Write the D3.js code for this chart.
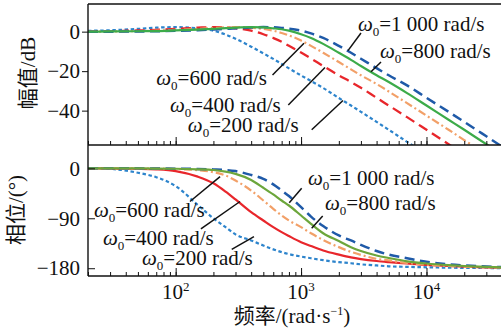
<!DOCTYPE html>
<html>
<head>
<meta charset="utf-8">
<script src="https://cdn.jsdelivr.net/npm/d3@7"></script>
<style>
  body { margin: 0; background: #fff; }
  svg { display: block; }
  text { font-family: "Liberation Serif", "Noto Sans CJK SC", serif; fill: #111; }
</style>
</head>
<body>
<div id="fig"></div>
<script>
// frequency grid in rad/s, shared by every curve
var freq = [20, 30, 50, 70, 100, 150, 200, 250, 300, 400, 500, 600, 700, 800, 1000, 1200, 1500,
            2000, 2500, 3000, 4000, 5000, 7000, 10000, 15000, 20000, 30000, 40000];

// magnitude in dB
var mag200  = [0.4, 0.7, 1.4, 2.0, 2.3, 1.7, 0.5, -1.5, -3.6, -7.6, -11.0, -13.8, -16.3, -18.6, -22.2, -25.0, -28.5,
               -33.6, -37.4, -40.6, -45.7, -49.7, -55.8, -62.1, -69.2, -74.0, -80.5, -85.0];
var mag400  = [0.1, 0.2, 0.6, 0.9, 1.4, 2.0, 2.3, 2.2, 1.7, 0.5, -1.3, -3.2, -5.1, -7.2, -10.6, -13.6, -17.4,
               -22.1, -25.5, -28.4, -33.5, -37.4, -43.3, -49.7, -57.0, -62.1, -69.2, -74.0];
var mag600  = [0.0, 0.1, 0.3, 0.5, 0.9, 1.4, 1.9, 2.2, 2.3, 2.0, 1.4, 0.5, -0.7, -1.9, -4.5, -7.2, -10.7,
               -15.4, -19.1, -22.1, -26.5, -30.3, -36.2, -42.5, -49.7, -54.9, -62.1, -67.0];
var mag800  = [0.0, 0.1, 0.2, 0.3, 0.6, 1.0, 1.4, 1.8, 2.0, 2.3, 2.2, 1.7, 1.2, 0.5, -1.3, -3.2, -6.2,
               -10.7, -14.3, -17.4, -22.1, -25.5, -31.1, -37.4, -44.6, -49.7, -57.0, -62.1];
var mag1000 = [0.0, 0.0, 0.1, 0.2, 0.4, 0.7, 1.1, 1.4, 1.7, 2.1, 2.3, 2.2, 1.9, 1.5, 0.5, -0.9, -3.2,
               -7.2, -10.7, -13.7, -18.5, -22.1, -27.2, -33.5, -40.6, -45.7, -53.0, -58.2];

// phase in degrees
var phase200  = [0, -1, -8, -16, -32, -66, -90, -106, -119, -130, -139, -146, -151, -154.5, -159, -162, -165.5,
                 -169, -171, -173, -175, -176.5, -177.5, -178.3, -179, -179.3, -179.6, -179.8];
var phase400  = [0, -0.3, -0.8, -1.8, -5, -15, -27, -42, -56, -79, -94, -106, -115, -122, -133, -140, -148,
                 -155.5, -160.5, -163.5, -167, -169, -171.5, -174, -176, -177, -178.3, -179];
var phase600  = [0, 0, -0.3, -0.6, -1.2, -3.5, -7, -13, -22, -40, -58, -73, -85, -94, -106, -117, -129,
                 -142, -150.5, -156, -163, -166, -170.5, -173.5, -176, -177, -178.3, -179];
var phase800  = [0, 0, -0.2, -0.4, -0.8, -1.8, -3, -6, -10, -21, -35, -47, -58, -67, -85, -100, -117,
                 -131, -142, -149, -157, -161.5, -167.5, -171.5, -174.5, -176, -177.5, -178.5];
var phase1000 = [0, 0, -0.1, -0.3, -0.6, -1.2, -2, -3, -5, -12, -19, -29, -40, -50, -70, -87, -104,
                 -121, -130, -138, -149, -155.5, -162, -168.5, -173, -175, -177, -178];

var magTicks = [0, -20, -40];
var phaseTicks = [0, -90, -180];
var decades = [100, 1000, 10000];

// annotations, in data units: label start, leader end on the curve, leader end near the label
var magNotes = [
  { w: "1 000", f: 2840, v: 0.3,   f1: 2366, v1: -9.6,  f2: 3004, v2: -0.7 },
  { w: "800",   f: 4260, v: -13.3, f1: 3610, v1: -20.3, f2: 4337, v2: -15.4 },
  { w: "600",   f: 70,   v: -27.0, f1: 592,  v1: -22.0, f2: 1055, v2: -5.9 },
  { w: "400",   f: 90,   v: -40.7, f1: 791,  v1: -37.1, f2: 1551, v2: -18.2 },
  { w: "200",   f: 125,  v: -50.8, f1: 1215, v1: -49.7, f2: 2159, v2: -34.9 }
];
var phaseNotes = [
  { w: "1 000", f: 1135, v: -30.1,  f1: 805,  v1: -62,    f2: 1011, v2: -36 },
  { w: "800",   f: 1551, v: -75.1,  f1: 1215, v1: -108,   f2: 1487, v2: -86 },
  { w: "600",   f: 22.3, v: -87.7,  f1: 130,  v1: -59.8,  f2: 226,  v2: -15.1 },
  { w: "400",   f: 26.3, v: -138.2, f1: 159,  v1: -109.3, f2: 326,  v2: -59.8 },
  { w: "200",   f: 53.9, v: -174.2, f1: 280,  v1: -145.9, f2: 421,  v2: -123.2 }
];

var W = 501, H = 336;
var fs = 21;
var svg = d3.select("#fig").append("svg").attr("width", W).attr("height", H);

var x = d3.scaleLog().domain([20, 40000]).range([88, 502]);
var yMag = d3.scaleLinear().domain([-57.4, 14]).range([145, 4]);
var yPh = d3.scaleLinear().domain([-194, 42]).range([276, 145]);

// clip each panel
var defs = svg.append("defs");
defs.append("clipPath").attr("id", "clipTop").append("rect")
  .attr("x", 88).attr("y", 4).attr("width", 414).attr("height", 141);
defs.append("clipPath").attr("id", "clipBot").append("rect")
  .attr("x", 88).attr("y", 145).attr("width", 414).attr("height", 131);

// line styles, in the order they are drawn
var topStyles = [
  { data: mag200,  color: "#2d84cc", dash: "3.5,2.6", w: 2.2 },
  { data: mag400,  color: "#e8262b", dash: "10,5.5",  w: 2.3 },
  { data: mag600,  color: "#f2a068", dash: "8,3,2,3", w: 2.2 },
  { data: mag1000, color: "#1f5aa8", dash: "10,5.5",  w: 2.5 },
  { data: mag800,  color: "#3cab49", dash: null,      w: 2.2 }
];
var botStyles = [
  { data: phase200,  color: "#2d84cc", dash: "3.5,2.6", w: 2.2 },
  { data: phase400,  color: "#e8262b", dash: null,      w: 2.2 },
  { data: phase600,  color: "#f2a068", dash: "8,3,2,3", w: 2.2 },
  { data: phase1000, color: "#1f5aa8", dash: "10,5.5",  w: 2.5 },
  { data: phase800,  color: "#6ca63b", dash: null,      w: 2.2 }
];

function drawCurves(styles, y, clip) {
  var line = d3.line()
    .x(function(d) { return x(d[0]); })
    .y(function(d) { return y(d[1]); })
    .curve(d3.curveMonotoneX);
  var g = svg.append("g").attr("clip-path", "url(#" + clip + ")");
  styles.forEach(function(s) {
    g.append("path")
      .datum(freq.map(function(f, i) { return [f, s.data[i]]; }))
      .attr("d", line)
      .attr("fill", "none")
      .attr("stroke", s.color)
      .attr("stroke-width", s.w)
      .attr("stroke-dasharray", s.dash);
  });
}
drawCurves(topStyles, yMag, "clipTop");
drawCurves(botStyles, yPh, "clipBot");

// frequency ticks pointing into each panel
function xTicks(yPos) {
  var minor = svg.append("g").attr("transform", "translate(0," + yPos + ")")
    .call(d3.axisBottom(x).tickValues(x.ticks()).tickSize(-4).tickFormat(""));
  minor.select(".domain").remove();
  var major = svg.append("g").attr("transform", "translate(0," + yPos + ")")
    .call(d3.axisBottom(x).tickValues(decades).tickSize(-8).tickFormat(""));
  major.select(".domain").remove();
  svg.selectAll(".tick line").attr("stroke", "#111");
}
xTicks(145);
xTicks(276);

// decade labels 10^n
svg.append("g").selectAll("text")
  .data(decades)
  .enter()
  .append("text")
  .attr("x", function(d) { return x(d); })
  .attr("y", 299)
  .attr("text-anchor", "middle")
  .attr("font-size", fs)
  .each(function(d) {
    var t = d3.select(this);
    t.append("tspan").text("10");
    t.append("tspan").attr("dy", -8).attr("font-size", 13).text(Math.round(Math.log10(d)));
  });

// y axes
var yTop = svg.append("g").attr("transform", "translate(88,0)")
  .call(d3.axisLeft(yMag).tickValues(magTicks).tickSize(6).tickPadding(2));
yTop.select(".domain").remove();
var yBot = svg.append("g").attr("transform", "translate(88,0)")
  .call(d3.axisLeft(yPh).tickValues(phaseTicks).tickSizeInner(-7).tickSizeOuter(0).tickPadding(8));
yBot.select(".domain").remove();
[yTop, yBot].forEach(function(g) {
  g.attr("font-family", null).attr("font-size", null);
  g.selectAll("text").attr("font-size", fs).attr("fill", "#111");
  g.selectAll("line").attr("stroke", "#111");
});

// frame
var frame = svg.append("g").attr("stroke", "#111").attr("stroke-width", 1.4).attr("fill", "none");
frame.append("line").attr("x1", 88).attr("x2", 502).attr("y1", 4).attr("y2", 4);
frame.append("line").attr("x1", 88).attr("x2", 502).attr("y1", 145).attr("y2", 145);
frame.append("line").attr("x1", 88).attr("x2", 502).attr("y1", 276).attr("y2", 276);
frame.append("line").attr("x1", 88).attr("x2", 88).attr("y1", 4).attr("y2", 276);

// curve labels with leader lines
function notes(list, y) {
  var g = svg.append("g");
  list.forEach(function(n) {
    g.append("line")
      .attr("x1", x(n.f1)).attr("y1", y(n.v1))
      .attr("x2", x(n.f2)).attr("y2", y(n.v2))
      .attr("stroke", "#111").attr("stroke-width", 1.5);
    var t = g.append("text").attr("x", x(n.f)).attr("y", y(n.v)).attr("font-size", fs);
    t.append("tspan").attr("font-style", "italic").text("ω");
    t.append("tspan").attr("dy", 5).attr("font-size", 13).text("0");
    t.append("tspan").attr("dy", -5).text("=" + n.w + " rad/s");
  });
}
notes(magNotes, yMag);
notes(phaseNotes, yPh);

// axis titles
svg.append("text")
  .attr("transform", "translate(28,73) rotate(-90)")
  .attr("text-anchor", "middle").attr("dominant-baseline", "central")
  .attr("font-size", fs)
  .text("幅值/dB");
svg.append("text")
  .attr("transform", "translate(16,210) rotate(-90)")
  .attr("text-anchor", "middle").attr("dominant-baseline", "central")
  .attr("font-size", fs)
  .text("相位/(°)");
var xt = svg.append("text")
  .attr("x", 292).attr("y", 323)
  .attr("text-anchor", "middle")
  .attr("font-size", fs);
xt.append("tspan").text("频率/(rad·s");
xt.append("tspan").attr("dy", -8).attr("font-size", 12).text("−1");
xt.append("tspan").attr("dy", 8).text(")");
</script>
</body>
</html>
